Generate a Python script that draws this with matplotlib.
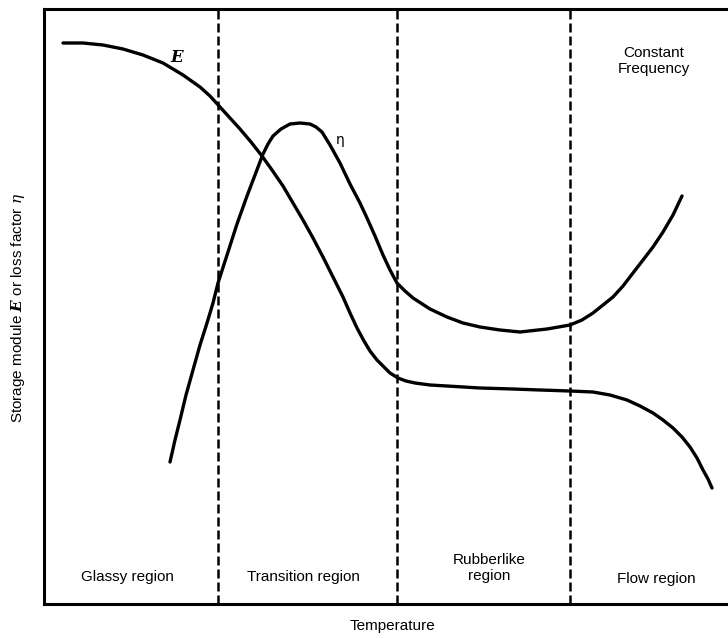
import numpy as np
import matplotlib
matplotlib.use("Agg")
import matplotlib.pyplot as plt

plt.rcParams["font.family"] = ["Liberation Sans", "DejaVu Sans"]
plt.rcParams["mathtext.fontset"] = "dejavuserif"

# Storage modulus E (arbitrary units)
e_temp = [19, 39, 59, 79, 99, 119, 139, 156, 166, 176, 186, 196, 207, 218,
          228, 239, 249, 259, 269, 279, 289, 299, 306, 313, 320, 326, 333,
          339, 346, 354, 362, 371, 386, 403, 436, 469, 496, 526, 549, 566,
          583, 596, 609, 619, 629, 638, 646, 653, 659, 664, 668]
e_value = [561, 561, 559, 555, 549, 541, 529, 517, 508, 497, 486, 475, 462,
           448, 434, 418, 401, 384, 366, 347, 327, 307, 291, 276, 263, 253,
           244, 238, 231, 226, 223, 221, 219, 218, 216, 215, 214, 213, 212,
           209, 204, 198, 191, 184, 176, 167, 157, 146, 134, 125, 116]

# Loss factor eta
eta_temp = [126, 131, 136, 142, 149, 156, 163, 169, 174, 184, 193, 203, 211,
            219, 224, 229, 237, 246, 256, 266, 272, 278, 286, 296, 306, 316,
            323, 331, 339, 346, 353, 361, 369, 386, 403, 419, 436, 456, 476,
            503, 526, 538, 549, 559, 569, 579, 589, 599, 609, 619, 629, 638]
eta_value = [142, 164, 184, 209, 234, 259, 281, 301, 321, 352, 380, 408, 429,
             450, 460, 468, 475, 480, 481, 480, 477, 472, 459, 441, 420, 401,
             386, 368, 349, 334, 321, 313, 306, 295, 287, 281, 277, 274, 272,
             275, 279, 284, 291, 299, 307, 318, 331, 344, 357, 372, 389, 408]

# region boundaries
boundaries = [174, 353, 526]
regions = ["Glassy region", "Transition region", "Rubberlike\nregion",
           "Flow region"]
region_x = [83, 259, 445, 612]
region_y = [27, 27, 36, 25]

fig = plt.figure(figsize=(7.28, 6.38), dpi=100)
ax = fig.add_axes([44 / 728, 34 / 638, 684 / 728, 595 / 638])
ax.set_xlim(0, 684)
ax.set_ylim(0, 595)

ax.plot(e_temp, e_value, color="black", linewidth=2.4,
        solid_capstyle="round", solid_joinstyle="round")
ax.plot(eta_temp, eta_value, color="black", linewidth=2.4,
        solid_capstyle="round", solid_joinstyle="round")

for b in boundaries:
    ax.axvline(b, color="black", linewidth=1.8, dashes=(3.6, 1.6))

for name, x, y in zip(regions, region_x, region_y):
    ax.text(x, y, name, ha="center", va="center", fontsize=11,
            linespacing=1.25)

ax.text(610, 543, "Constant\nFrequency", ha="center", va="center",
        fontsize=11, linespacing=1.25)
ax.text(133, 547, "E", ha="center", va="center", fontsize=12,
        family="DejaVu Serif", style="italic", weight="bold")
ax.text(296, 464, "η", ha="center", va="center", fontsize=10,
        family="DejaVu Sans")

ax.set_xticks([])
ax.set_yticks([])
ax.spines["right"].set_visible(False)
for side in ["left", "top", "bottom"]:
    ax.spines[side].set_linewidth(2.2)

fig.text(393 / 728, 1 - 626 / 638, "Temperature", ha="center", va="center",
         fontsize=11)
fig.text(18 / 728, 1 - 308 / 638,
         r"Storage module $\mathbfit{E}$ or loss factor $\eta$",
         ha="center", va="center", rotation=90, fontsize=11)

fig.savefig("out.png", dpi=100)
plt.close(fig)
